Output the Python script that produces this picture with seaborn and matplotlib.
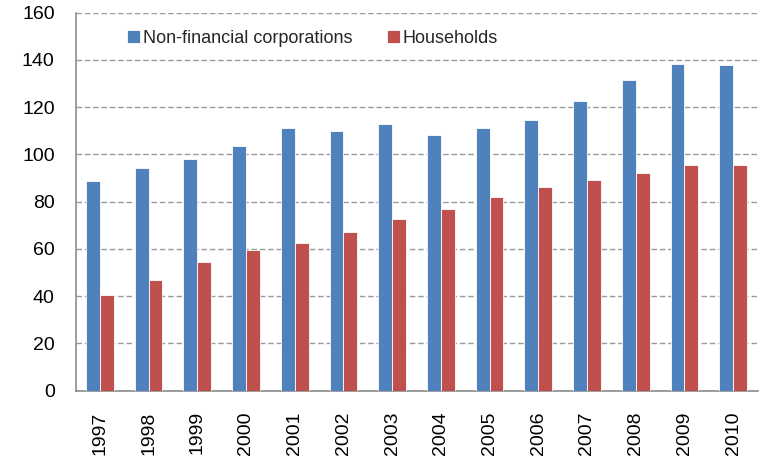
import matplotlib
matplotlib.use("Agg")
import matplotlib.pyplot as plt
import seaborn as sns
import pandas as pd

years = ["1997", "1998", "1999", "2000", "2001", "2002", "2003",
         "2004", "2005", "2006", "2007", "2008", "2009", "2010"]
corporations = [88.6, 94.3, 97.9, 103.6, 111.1, 110.0, 112.8,
                108.2, 111.1, 114.5, 122.7, 131.4, 138.3, 137.7]
households = [40.5, 47.0, 54.5, 59.7, 62.5, 67.2, 72.5,
              76.9, 82.0, 86.3, 89.1, 92.1, 95.6, 95.6]
series_names = ["Non-financial corporations", "Households"]
colors = ["#4F81BD", "#C0504D"]

df = pd.DataFrame({
    "year": years * 2,
    "value": corporations + households,
    "sector": [series_names[0]] * len(years) + [series_names[1]] * len(years),
})

sns.set_theme(style="white")
plt.rcParams["font.family"] = ["Liberation Sans", "DejaVu Sans"]

fig = plt.figure(figsize=(7.59, 4.62), dpi=100)
ax = fig.add_axes([75.5 / 759, 1 - 390.5 / 462, 682 / 759, 377.8 / 462])

sns.barplot(data=df, x="year", y="value", hue="sector", palette=colors,
            width=0.57, gap=0, ax=ax, errorbar=None, saturation=1,
            edgecolor="#ffffff", linewidth=0.6, zorder=3)

ax.set_ylim(0, 160)
ax.set_xlim(-0.5, 13.5)
ax.set_yticks(range(0, 161, 20))
ax.yaxis.grid(True, linestyle=(0, (4, 2)), color="#9a9a9a", linewidth=1.0, zorder=0)
ax.set_axisbelow(True)
ax.set_xlabel("")
ax.set_ylabel("")
ax.tick_params(axis="y", labelsize=14, colors="#000000", length=0, pad=15)
ax.tick_params(axis="x", labelsize=14, colors="#000000", length=0, pad=15, labelrotation=90)
for s in ["top", "right"]:
    ax.spines[s].set_visible(False)
for s in ["left", "bottom"]:
    ax.spines[s].set_color("#8c8c8c")
    ax.spines[s].set_linewidth(1.2)

handles, labels = ax.get_legend_handles_labels()
ax.legend(handles, labels, loc="center left", bbox_to_anchor=(0.076, 0.932), ncol=2,
          frameon=False, fontsize=13, handlelength=0.7, handleheight=0.7,
          handletextpad=0.15, columnspacing=1.95, borderpad=0, borderaxespad=0)

fig.savefig("out.png", dpi=100)
